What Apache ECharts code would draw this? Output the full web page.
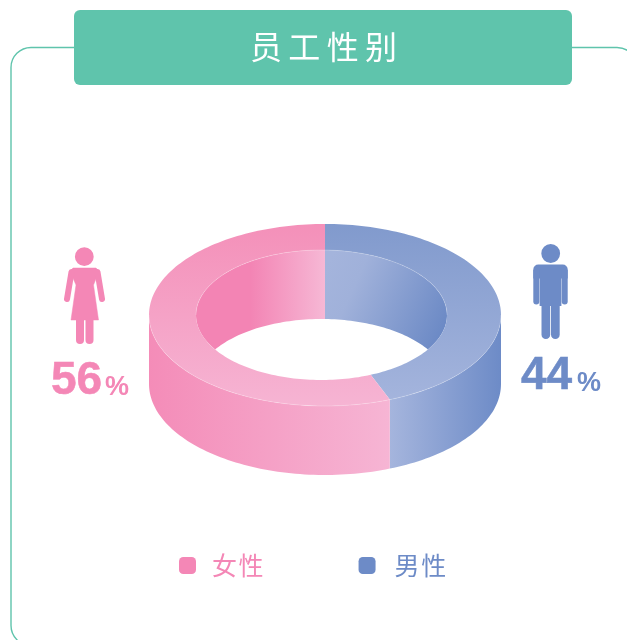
<!DOCTYPE html>
<html lang="zh">
<head>
<meta charset="utf-8">
<title>员工性别</title>
<script src="https://cdn.jsdelivr.net/npm/echarts@6/dist/echarts.min.js"></script>
<style>
  html, body { margin: 0; padding: 0; background: #fff; }
  #chart { width: 627px; height: 640px; }
</style>
</head>
<body>
<div id="chart"></div>
<script>
// dados
var titleText = '员工性别';
var genders = ['男性', '女性'];
var shares = [44, 56];
var percentSign = '%';

var PINK = '#f487b6';
var BLUE = '#6d8bc7';
var GREEN = '#5fc4ac';
var FONT_CJK = '"Noto Sans CJK SC", sans-serif';
var FONT_NUM = '"Liberation Sans", Arial, sans-serif';

// geometria do anel (elipse externa, elipse interna, altura)
var CX = 325, CY = 315, RX = 176, RY = 91;
var IRX = 125.5, IRY = 65, ICX = 321.5;
var DEPTH = 69;
var RAD = Math.PI / 180;

function grad(x0, y0, x1, y1, stops) {
  return new echarts.graphic.LinearGradient(x0, y0, x1, y1, stops.map(function (s) {
    return { offset: s[0], color: s[1] };
  }), true);
}

var skins = [
  {
    top: grad(0, 224, 0, 405, [[0, '#819acd'], [1, '#a5b5dd']]),
    outer: grad(390, 0, 501, 0, [[0, '#a5b5dd'], [1, '#6d8bc7']]),
    inner: grad(325, 270, 447, 325, [[0, '#a4b4dc'], [0.25, '#a0b1da'], [1, '#6b89c5']])
  },
  {
    top: grad(0, 224, 0, 405, [[0, '#f490b9'], [1, '#f6b4d3']]),
    outer: grad(149, 0, 390, 0, [[0, '#f48cb8'], [1, '#f6b5d4']]),
    inner: grad(196, 0, 325, 0, [[0, '#f384b4'], [0.42, '#f384b4'], [1, '#f6b8d5']])
  }
];

// angulos em graus, 0 = topo, sentido horario
function arc(cx, cy, rx, ry, from, to) {
  var pts = [];
  var n = Math.max(2, Math.ceil(Math.abs(to - from) / 1.5));
  for (var i = 0; i <= n; i++) {
    var a = (from + (to - from) * i / n) * RAD;
    pts.push([cx + rx * Math.sin(a), cy - ry * Math.cos(a)]);
  }
  return pts;
}

// a elipse interna esta um pouco deslocada, entao o angulo da divisa muda nela
function innerAngle(deg) {
  var a = deg * RAD;
  var r = Math.atan2(Math.sin(a) + (CX - ICX) / IRX, Math.cos(a)) / RAD;
  if (r < 0) r += 360;
  if (deg > 300 && r < 60) r += 360;
  return r;
}

function overlap(a0, a1, b0, b1) {
  var s = Math.max(a0, b0), e = Math.min(a1, b1);
  return e > s ? [s, e] : null;
}

// mesmo x na metade de cima da elipse de baixo
function wallAngle(deg) {
  if (deg > 90 && deg <= 180) return 180 - deg;
  if (deg > 180 && deg < 270) return 540 - deg;
  return deg;
}

function sliceShapes(start, end, skin) {
  var kids = [];
  var i0 = innerAngle(start), i1 = innerAngle(end);
  var corner = Math.acos(-DEPTH / (2 * IRY)) / RAD;
  var edge = { fill: null, stroke: 'rgba(255,255,255,0.35)', lineWidth: 0.6 };

  // parede interna (so o que aparece pelo furo)
  [[0, corner], [360 - corner, 370]].forEach(function (lim) {
    var o = overlap(i0, i1, lim[0], lim[1]);
    if (!o) return;
    var up = arc(ICX, CY, IRX, IRY, o[0], o[1]);
    var low = arc(ICX, CY + DEPTH, IRX, IRY, wallAngle(o[1]), wallAngle(o[0]));
    kids.push({ type: 'polygon', shape: { points: up.concat(low) }, style: { fill: skin.inner } });
  });

  // parede externa
  var w = overlap(start, end, 90, 270);
  if (w) {
    var a = arc(CX, CY, RX, RY, w[0], w[1]);
    var b = arc(CX, CY + DEPTH, RX, RY, w[1], w[0]);
    kids.push({ type: 'polygon', shape: { points: a.concat(b) }, style: { fill: skin.outer } });
  }

  // face de cima
  var ringOut = arc(CX, CY, RX, RY, start, end);
  var ringIn = arc(ICX, CY, IRX, IRY, i1, i0);
  kids.push({ type: 'polygon', shape: { points: ringOut.concat(ringIn) }, style: { fill: skin.top } });

  // filetes claros nas arestas
  if (w) {
    kids.push({ type: 'polyline', shape: { points: arc(CX, CY, RX, RY, w[0], w[1]) }, style: edge });
  }
  [[0, 90], [270, 370]].forEach(function (lim) {
    var o = overlap(i0, i1, lim[0], lim[1]);
    if (!o) return;
    kids.push({ type: 'polyline', shape: { points: arc(ICX, CY, IRX, IRY, o[0], o[1]) }, style: edge });
  });
  return kids;
}

var total = shares.reduce(function (s, v) { return s + v; }, 0);

function makeSeries(idx) {
  var before = 0;
  for (var i = 0; i < idx; i++) before += shares[i];
  return {
    type: 'custom',
    name: genders[idx],
    coordinateSystem: 'none',
    silent: true,
    animation: false,
    itemStyle: { color: idx === 0 ? BLUE : PINK },
    data: [[shares[idx]]],
    renderItem: function (params, api) {
      var start = before / total * 360;
      var end = (before + api.value(0)) / total * 360;
      return { type: 'group', children: sliceShapes(start, end, skins[idx]) };
    }
  };
}

// pictogramas
function woman(color) {
  return [
    { type: 'circle', shape: { cx: 84.3, cy: 256.7, r: 9.4 }, style: { fill: color } },
    { type: 'polygon', shape: { points: [[73, 268], [96, 268], [99, 271], [93.5, 285], [98.5, 320], [71, 320], [76, 285], [70, 271]] }, style: { fill: color, stroke: color, lineWidth: 0.5, lineJoin: 'round' } },
    { type: 'line', shape: { x1: 71.5, y1: 272, x2: 67, y2: 299 }, style: { stroke: color, lineWidth: 6, lineCap: 'round' } },
    { type: 'line', shape: { x1: 97.5, y1: 272, x2: 102, y2: 299 }, style: { stroke: color, lineWidth: 6, lineCap: 'round' } },
    { type: 'rect', shape: { x: 76, y: 315, width: 8, height: 29, r: [0, 0, 4, 4] }, style: { fill: color } },
    { type: 'rect', shape: { x: 85.5, y: 315, width: 8, height: 29, r: [0, 0, 4, 4] }, style: { fill: color } }
  ];
}

function man(color) {
  return [
    { type: 'circle', shape: { cx: 550.7, cy: 253.5, r: 9.4 }, style: { fill: color } },
    { type: 'rect', shape: { x: 533.3, y: 264.5, width: 34.4, height: 14, r: [5, 5, 0, 0] }, style: { fill: color } },
    { type: 'rect', shape: { x: 533.3, y: 270, width: 6, height: 34.5, r: [0, 0, 3, 3] }, style: { fill: color } },
    { type: 'rect', shape: { x: 561.7, y: 270, width: 6, height: 34.5, r: [0, 0, 3, 3] }, style: { fill: color } },
    { type: 'rect', shape: { x: 539.6, y: 270, width: 21.8, height: 36 }, style: { fill: color } },
    { type: 'rect', shape: { x: 541.5, y: 300, width: 8.7, height: 39, r: [0, 0, 4.3, 4.3] }, style: { fill: color } },
    { type: 'rect', shape: { x: 551, y: 300, width: 8.7, height: 39, r: [0, 0, 4.3, 4.3] }, style: { fill: color } }
  ];
}

function percentLabel(value, x, yMid, pctX, color) {
  return [
    { type: 'text', style: { x: x, y: yMid, text: String(value), fill: color, stroke: color, lineWidth: 0.5, font: 'bold 46px ' + FONT_NUM, textAlign: 'left', textVerticalAlign: 'middle' } },
    { type: 'text', style: { x: pctX, y: yMid + 7, text: percentSign, fill: color, font: 'bold 27px ' + FONT_NUM, textAlign: 'left', textVerticalAlign: 'middle' } }
  ];
}

var chart = echarts.init(document.getElementById('chart'), null, { renderer: 'canvas' });

chart.setOption({
  animation: false,
  backgroundColor: '#fff',
  title: {
    text: titleText.split('').join('\u2009'),
    left: 318.5,
    top: 26,
    textAlign: 'center',
    textStyle: { color: '#fff', fontFamily: FONT_CJK, fontSize: 32, fontWeight: 400 },
    z: 10
  },
  legend: {
    left: 179,
    top: 553,
    padding: 0,
    itemWidth: 17,
    itemHeight: 17,
    itemGap: 95,
    icon: 'roundRect',
    selectedMode: false,
    formatter: function (name) { return name.split('').join('\u200a'); },
    textStyle: { fontFamily: FONT_CJK, fontSize: 25, fontWeight: 400, padding: [0, 0, 0, 11] },
    data: [
      { name: genders[1], textStyle: { color: PINK } },
      { name: genders[0], textStyle: { color: BLUE, padding: [0, 0, 0, 14] } }
    ]
  },
  graphic: [
    { type: 'rect', silent: true, z: 1, shape: { x: 11, y: 47.5, width: 626, height: 598, r: 20 }, style: { fill: 'none', stroke: GREEN, lineWidth: 1.4 } },
    { type: 'rect', silent: true, z: 2, shape: { x: 74, y: 10, width: 498, height: 75, r: 6 }, style: { fill: GREEN } },
    { type: 'group', silent: true, children: woman(PINK) },
    { type: 'group', silent: true, children: man(BLUE) },
    { type: 'group', silent: true, children: percentLabel(shares[1], 51, 381, 105, PINK) },
    { type: 'group', silent: true, children: percentLabel(shares[0], 521, 376.5, 577, BLUE) }
  ],
  series: [makeSeries(0), makeSeries(1)]
});
</script>
</body>
</html>
